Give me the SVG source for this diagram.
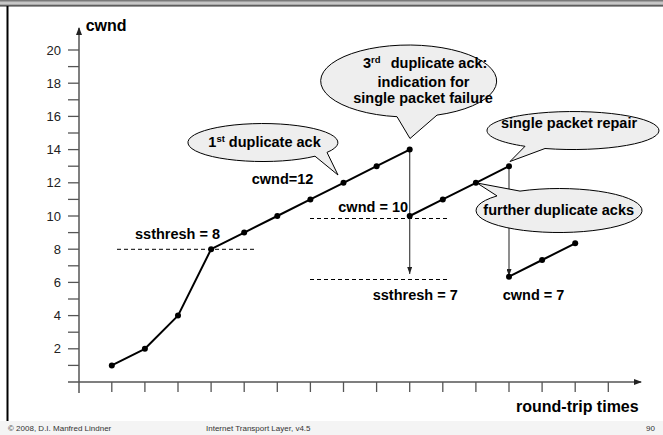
<svg xmlns="http://www.w3.org/2000/svg" width="663" height="435" viewBox="0 0 663 435">
  <style>
    .lbl { font-family: "Liberation Sans", Arial, sans-serif; font-weight: bold; font-size: 14.5px; fill: #000; }
    .ax { font-family: "Liberation Sans", Arial, sans-serif; font-size: 13px; fill: #222; text-anchor: end; }
    .axt { font-family: "Liberation Sans", Arial, sans-serif; font-weight: bold; font-size: 16px; fill: #000; }
    .foot { font-family: "Liberation Sans", Arial, sans-serif; font-size: 8px; fill: #333; }
    .axis { stroke: #555; stroke-width: 1.5; fill: none; }
    .tick { stroke: #555; stroke-width: 1.3; }
    .curve { stroke: #000; stroke-width: 2; fill: none; stroke-linejoin: round; }
    .dot { fill: #000; }
    .dash { stroke: #000; stroke-width: 1; stroke-dasharray: 4 3; fill: none; }
    .drop { stroke: #444; stroke-width: 1.2; fill: none; }
    .bubble { fill: #eeeeee; stroke: #000; stroke-width: 1; }
    .sup { font-size: 9.5px; }
  </style>
  <defs>
    <marker id="axArrow" markerWidth="8" markerHeight="6" refX="7" refY="3" orient="auto" markerUnits="userSpaceOnUse">
      <path d="M0,0 L8,3 L0,6 Z" fill="#222"/>
    </marker>
    <marker id="dropArrow" markerWidth="7" markerHeight="5" refX="7" refY="2.5" orient="auto" markerUnits="userSpaceOnUse">
      <path d="M0,0 L7,2.5 L0,5 Z" fill="#222"/>
    </marker>
    <linearGradient id="topBar" x1="0" y1="0" x2="0" y2="1">
      <stop offset="0" stop-color="#666"/>
      <stop offset="0.5" stop-color="#d8d8d8"/>
      <stop offset="1" stop-color="#777"/>
    </linearGradient>
  </defs>

  <!-- page frame -->
  <rect x="0" y="0" width="663" height="435" fill="#fff"/>
  <rect x="0" y="0" width="663" height="6" fill="url(#topBar)"/>
  <line x1="0" y1="6" x2="663" y2="6" stroke="#333" stroke-width="1"/>
  <line x1="7.5" y1="6" x2="7.5" y2="421" stroke="#000" stroke-width="2"/>
  <rect x="0" y="421" width="663" height="14" fill="#f4f4f4"/>
  <text class="foot" x="8" y="431">© 2008, D.I. Manfred Lindner</text>
  <text class="foot" x="206" y="431">Internet Transport Layer, v4.5</text>
  <text class="foot" x="655" y="431" text-anchor="end">90</text>

  <!-- axes -->
  <g id="axes">
    <line class="axis" x1="79" y1="393" x2="79" y2="28" marker-end="url(#axArrow)"/>
    <line class="axis" x1="68" y1="382" x2="641" y2="382" marker-end="url(#axArrow)"/>
    <text class="axt" x="85.7" y="31">cwnd</text>
    <text class="axt" x="516" y="411.7">round-trip times</text>
    <g id="y-ticks">
      <line class="tick" x1="68" y1="365.4" x2="79" y2="365.4"/>
      <line class="tick" x1="68" y1="348.8" x2="79" y2="348.8"/>
      <line class="tick" x1="68" y1="332.2" x2="79" y2="332.2"/>
      <line class="tick" x1="68" y1="315.6" x2="79" y2="315.6"/>
      <line class="tick" x1="68" y1="299" x2="79" y2="299"/>
      <line class="tick" x1="68" y1="282.4" x2="79" y2="282.4"/>
      <line class="tick" x1="68" y1="265.8" x2="79" y2="265.8"/>
      <line class="tick" x1="68" y1="249.2" x2="79" y2="249.2"/>
      <line class="tick" x1="68" y1="232.6" x2="79" y2="232.6"/>
      <line class="tick" x1="68" y1="216" x2="79" y2="216"/>
      <line class="tick" x1="68" y1="199.4" x2="79" y2="199.4"/>
      <line class="tick" x1="68" y1="182.8" x2="79" y2="182.8"/>
      <line class="tick" x1="68" y1="166.2" x2="79" y2="166.2"/>
      <line class="tick" x1="68" y1="149.6" x2="79" y2="149.6"/>
      <line class="tick" x1="68" y1="133" x2="79" y2="133"/>
      <line class="tick" x1="68" y1="116.4" x2="79" y2="116.4"/>
      <line class="tick" x1="68" y1="99.8" x2="79" y2="99.8"/>
      <line class="tick" x1="68" y1="83.2" x2="79" y2="83.2"/>
      <line class="tick" x1="68" y1="66.6" x2="79" y2="66.6"/>
      <line class="tick" x1="68" y1="50" x2="79" y2="50"/>
    </g>
    <g id="y-labels">
      <text class="ax" x="61" y="353.3">2</text>
      <text class="ax" x="61" y="320.1">4</text>
      <text class="ax" x="61" y="286.9">6</text>
      <text class="ax" x="61" y="253.7">8</text>
      <text class="ax" x="61" y="220.5">10</text>
      <text class="ax" x="61" y="187.3">12</text>
      <text class="ax" x="61" y="154.1">14</text>
      <text class="ax" x="61" y="120.9">16</text>
      <text class="ax" x="61" y="87.7">18</text>
      <text class="ax" x="61" y="54.5">20</text>
    </g>
    <g id="x-ticks">
      <line class="tick" x1="111.8" y1="382" x2="111.8" y2="392"/>
      <line class="tick" x1="144.9" y1="382" x2="144.9" y2="392"/>
      <line class="tick" x1="178" y1="382" x2="178" y2="392"/>
      <line class="tick" x1="211.1" y1="382" x2="211.1" y2="392"/>
      <line class="tick" x1="244.2" y1="382" x2="244.2" y2="392"/>
      <line class="tick" x1="277.3" y1="382" x2="277.3" y2="392"/>
      <line class="tick" x1="310.4" y1="382" x2="310.4" y2="392"/>
      <line class="tick" x1="343.5" y1="382" x2="343.5" y2="392"/>
      <line class="tick" x1="376.6" y1="382" x2="376.6" y2="392"/>
      <line class="tick" x1="409.7" y1="382" x2="409.7" y2="392"/>
      <line class="tick" x1="442.8" y1="382" x2="442.8" y2="392"/>
      <line class="tick" x1="475.9" y1="382" x2="475.9" y2="392"/>
      <line class="tick" x1="509" y1="382" x2="509" y2="392"/>
      <line class="tick" x1="542.1" y1="382" x2="542.1" y2="392"/>
      <line class="tick" x1="575.2" y1="382" x2="575.2" y2="392"/>
      <line class="tick" x1="608.3" y1="382" x2="608.3" y2="392"/>
    </g>
  </g>

  <!-- threshold guides -->
  <g id="guides">
    <line class="dash" x1="117" y1="249.3" x2="255" y2="249.3"/>
    <line class="dash" x1="310" y1="218.5" x2="449" y2="218.5"/>
    <line class="dash" x1="310" y1="279.5" x2="449" y2="279.5"/>
    <text class="lbl" x="135" y="239">ssthresh = 8</text>
    <text class="lbl" x="251.7" y="183.5">cwnd=12</text>
    <text class="lbl" x="338.3" y="211.5">cwnd = 10</text>
    <text class="lbl" x="372.7" y="300">ssthresh = 7</text>
    <text class="lbl" x="502.7" y="300">cwnd = 7</text>
  </g>

  <!-- window drops -->
  <g id="connectors">
    <line class="drop" x1="409.7" y1="149.6" x2="409.7" y2="274" marker-end="url(#dropArrow)"/>
    <line class="drop" x1="509" y1="166.2" x2="509" y2="276" marker-end="url(#dropArrow)"/>
  </g>

  <!-- cwnd curve -->
  <g id="curve">
    <polyline class="curve" points="111.8,365.4 144.9,348.8 178,315.6 211.1,249.2 244.2,232.6 277.3,216 310.4,199.4 343.5,182.8 376.6,166.2 409.7,149.6"/>
    <polyline class="curve" points="409.7,216 442.8,199.4 475.9,182.8 509,166.2"/>
    <polyline class="curve" points="509,276.7 542.1,260 575.2,243.3"/>
    <g class="dot">
      <circle cx="111.8" cy="365.4" r="3"/>
      <circle cx="144.9" cy="348.8" r="3"/>
      <circle cx="178" cy="315.6" r="3"/>
      <circle cx="211.1" cy="249.2" r="3"/>
      <circle cx="244.2" cy="232.6" r="3"/>
      <circle cx="277.3" cy="216" r="3"/>
      <circle cx="310.4" cy="199.4" r="3"/>
      <circle cx="343.5" cy="182.8" r="3"/>
      <circle cx="376.6" cy="166.2" r="3"/>
      <circle cx="409.7" cy="149.6" r="3"/>
      <circle cx="409.7" cy="216" r="3"/>
      <circle cx="442.8" cy="199.4" r="3"/>
      <circle cx="475.9" cy="182.8" r="3"/>
      <circle cx="509" cy="166.2" r="3"/>
      <circle cx="509" cy="276.7" r="3"/>
      <circle cx="542.1" cy="260" r="3"/>
      <circle cx="575.2" cy="243.3" r="3"/>
    </g>
  </g>

  <!-- callouts -->
  <g id="callout-first-dupack">
    <path class="bubble" d="M327,152.4 A75,19 0 1 0 315,156.2 L338,175 Z"/>
    <text class="lbl" x="208.3" y="146.7">1<tspan class="sup" dy="-5">st</tspan><tspan dy="5"> duplicate ack</tspan></text>
  </g>

  <g id="callout-third-dupack">
    <path class="bubble" d="M437,115.1 A88,36 0 1 0 397,116.7 L410,138.5 Z"/>
    <text class="lbl" x="363" y="67.7">3<tspan class="sup" dy="-5">rd</tspan><tspan x="390.7" dy="5">duplicate ack:</tspan></text>
    <text class="lbl" x="423.5" y="86.7" text-anchor="middle">indication for</text>
    <text class="lbl" x="423" y="103.3" text-anchor="middle">single packet failure</text>
  </g>

  <g id="callout-repair">
    <path class="bubble" d="M545,148.5 A86,19 0 1 0 525,146.3 L510,161.5 Z"/>
    <text class="lbl" x="569" y="128.3" text-anchor="middle">single packet repair</text>
  </g>

  <g id="callout-further">
    <path class="bubble" d="M497,195.9 A83,22 0 1 0 520,191.1 L477,183 Z"/>
    <text class="lbl" x="558.7" y="215" text-anchor="middle">further duplicate acks</text>
  </g>
</svg>
